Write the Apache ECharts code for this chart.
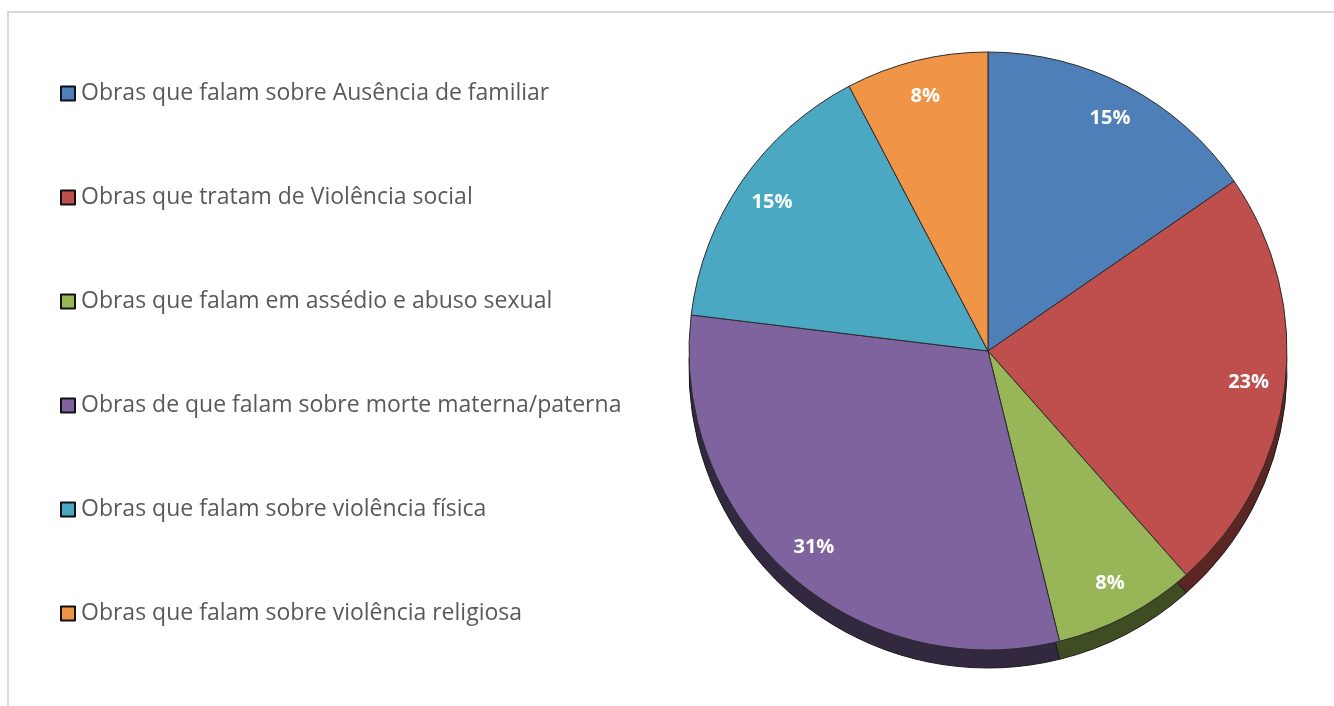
<!DOCTYPE html>
<html>
<head>
<meta charset="utf-8">
<script src="https://cdn.jsdelivr.net/npm/echarts@6/dist/echarts.min.js"></script>
<style>
  html, body { margin: 0; padding: 0; background: #fff; }
  #chart { width: 1334px; height: 706px; }
</style>
</head>
<body>
<div id="chart"></div>
<script>
const categories = [
  'Obras que falam sobre Ausência de familiar',
  'Obras que tratam de Violência social',
  'Obras que falam em assédio e abuso sexual',
  'Obras de que falam sobre morte materna/paterna',
  'Obras que falam sobre violência física',
  'Obras que falam sobre violência religiosa'
];
const counts = [2, 3, 1, 4, 2, 1];
const colors = ['#4F7FB8', '#BE4F4C', '#98B658', '#7E639E', '#4BA8C2', '#F09448'];
const sideColors = ['#283F5C', '#5A2523', '#3E4D22', '#32283F', '#22505C', '#6E421E'];

const chart = echarts.init(document.getElementById('chart'));

const mainData = categories.map((name, i) => ({
  name, value: counts[i], itemStyle: { color: colors[i] }
}));
const sideData = categories.map((name, i) => ({
  name, value: counts[i], itemStyle: { color: sideColors[i] }
}));
const labelData = categories.map((name, i) => ({ name, value: counts[i] }));

chart.setOption({
  animation: false,
  graphic: [{
    type: 'rect',
    shape: { x: 8, y: 12, width: 1400, height: 800 },
    style: { fill: 'none', stroke: '#d9d9d9', lineWidth: 2 },
    silent: true,
    z: -10
  }],
  legend: {
    orient: 'vertical',
    left: 60,
    top: 82,
    padding: 0,
    itemWidth: 14,
    itemHeight: 14,
    itemGap: 81,
    icon: 'rect',
    selectedMode: false,
    data: categories.map((name, i) => ({ name, itemStyle: { color: colors[i] } })),
    itemStyle: { borderColor: '#111', borderWidth: 2 },
    textStyle: {
      fontFamily: 'Open Sans',
      fontSize: 23,
      color: '#595959',
      padding: [0, 0, 0, 1]
    }
  },
  series: [
    {
      type: 'pie',
      center: [988, 351],
      radius: [0, 299],
      startAngle: 90,
      clockwise: true,
      label: { show: false },
      labelLine: { show: false },
      itemStyle: { borderColor: '#2b2b2b', borderWidth: 1 },
      data: mainData,
      z: 2
    },
    {
      // depth of the 3D pie
      type: 'pie',
      center: [988, 369],
      radius: [0, 299],
      startAngle: 90,
      clockwise: true,
      silent: true,
      legendHoverLink: false,
      label: { show: false },
      labelLine: { show: false },
      itemStyle: { borderColor: '#1a1a1a', borderWidth: 1 },
      data: sideData,
      z: 1
    },
    {
      // labels only, placed near the rim
      type: 'pie',
      center: [988, 351],
      radius: [220, 299],
      startAngle: 90,
      clockwise: true,
      silent: true,
      legendHoverLink: false,
      itemStyle: { color: 'rgba(0,0,0,0)', borderWidth: 0 },
      label: {
        show: true,
        position: 'inside',
        formatter: p => Math.round(p.percent) + '%',
        color: '#fff',
        fontFamily: 'Open Sans',
        fontWeight: 'bold',
        fontSize: 20
      },
      labelLine: { show: false },
      data: labelData,
      z: 3
    }
  ]
});
</script>
</body>
</html>
